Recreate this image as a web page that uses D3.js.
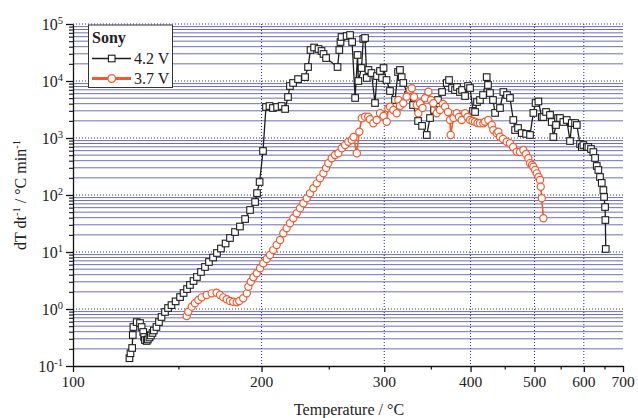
<!DOCTYPE html>
<html>
<head>
<meta charset="utf-8">
<script src="https://cdn.jsdelivr.net/npm/d3@7"></script>
<style>
  html, body { margin: 0; padding: 0; background: #ffffff; }
  svg { display: block; font-family: "Liberation Serif", "Times New Roman", serif; }
</style>
</head>
<body>
<svg id="chart" width="638" height="418"></svg>
<script>
// Self-heating rate of Sony cells vs temperature (ARC-type run)
const legendTitle = "Sony";
const seriesNames = ["4.2 V", "3.7 V"];

// 4.2 V cell: temperature (°C) and dT/dt (°C/min)
const temp42 = [125.2,125.7,126.5,126.8,127.1,128.7,130.3,131.1,131.9,132.3,132.7,133.6,134.2,135.0,135.7,136.5,137.2,138.5,139.8,141.1,
  142.9,144.5,146.3,148.5,150.9,152.8,154.7,156.3,158.3,160.2,162.5,164.8,167.1,169.5,171.8,174.2,177.0,179.7,182.8,185.9,
  189.2,192.4,195.7,197.0,198.7,201.0,203.0,205.4,207.8,210.7,213.9,216.4,218.5,219.9,222.2,225.9,231.2,233.5,235.4,238.2,
  241.7,244.1,245.7,247.8,257.3,258.8,259.8,260.7,265.1,268.1,269.9,272.6,274.8,275.5,278.4,280.0,281.6,283.2,284.8,287.6,
  291.0,292.9,295.8,297.8,299.3,302.2,305.7,310.8,313.9,315.9,317.7,319.4,324.4,329.9,335.4,339.9,345.2,349.0,353.7,358.4,
  363.3,369.1,371.9,375.7,379.5,382.1,385.9,388.6,392.6,396.6,399.3,403.4,406.2,408.9,413.1,417.4,422.7,424.6,427.5,432.0,
  435.1,442.6,447.8,453.6,458.3,463.7,466.6,471.5,477.7,485.1,492.0,497.9,501.9,507.0,513.2,516.3,521.3,528.9,532.2,535.4,
  540.7,544.7,548.6,555.5,562.6,569.5,573.2,580.5,584.2,591.4,595.3,599.0,606.8,610.5,616.8,622.4,626.5,630.6,634.6,638.7,
  643.1,647.2,649.0,651.5,652.3,653.3];
const rate42 = [0.137,0.167,0.207,0.35,0.483,0.59,0.567,0.483,0.395,0.323,0.286,0.275,0.292,0.316,0.343,0.38,0.42,0.483,0.59,0.724,
  0.886,1.04,1.17,1.36,1.62,1.91,2.24,2.64,3.10,3.64,4.46,5.46,6.68,8.01,9.6,11.5,14.1,17.6,22.4,28.0,
  37.9,54.6,75.4,108,169,592,3500,3640,3360,3500,3640,3230,5240,8170,9230,10800,11700,17600,35000,38700,
  36400,33600,29800,25300,17600,35000,48300,59200,61500,64100,48300,5040,28600,10000,16900,54600,56800,11300,15600,13800,
  4110,12200,15000,11300,16900,10400,6680,4640,14400,15600,11700,9230,5680,3790,1990,1630,1130,2240,3100,4640,
  6410,9230,10400,7530,6950,7850,6410,6950,5450,8170,7530,2980,2860,4280,4640,5680,11700,8510,6150,4640,
  2750,3360,6410,5680,5040,2070,1380,1500,1220,1180,1130,2750,4110,4370,2330,2330,2860,2540,1910,1040,
  1690,2240,2240,1910,2070,885,1830,1830,1690,785,695,753,695,695,641,567,446,323,275,207,
  163,122,92.3,61.5,36.4,11.3];

// 3.7 V cell: temperature (°C) and dT/dt (°C/min)
const temp37 = [154.5,155.4,157.3,159.1,161.0,162.9,165.8,168.7,171.6,173.6,175.6,177.7,179.7,181.7,183.9,185.5,188.0,190.3,191.3,192.9,
  194.6,196.8,199.0,201.2,203.5,205.7,208.0,210.4,212.8,215.1,217.5,219.9,222.4,224.9,227.4,229.9,232.5,235.0,237.6,240.3,
  242.9,245.6,247.8,249.6,252.4,255.2,258.0,260.9,263.8,266.6,269.6,271.2,274.1,276.4,278.6,281.6,284.6,286.2,289.4,292.6,
  295.8,299.3,302.4,304.0,305.7,309.1,312.5,314.2,315.9,319.4,323.0,326.6,328.5,331.0,334.0,335.7,337.6,340.4,343.3,347.1,
  350.2,352.9,356.9,360.8,364.5,367.0,370.6,373.1,374.0,377.6,381.7,384.6,388.2,392.6,395.9,399.3,402.7,406.2,409.6,413.1,
  417.9,420.3,425.1,430.1,432.5,437.6,440.0,442.6,447.3,453.1,458.3,463.3,469.4,474.8,480.5,485.1,489.1,492.0,495.6,497.9,
  501.0,504.1,507.3,510.0,511.3,513.2,516.3];
const rate37 = [0.753,0.897,1.10,1.26,1.44,1.60,1.76,1.88,1.93,1.76,1.60,1.48,1.38,1.34,1.31,1.38,1.54,1.88,2.46,3.01,
  3.60,4.23,5.18,6.34,7.53,8.85,10.8,13.3,16.3,21.3,26.1,31.9,39.0,47.8,58.5,71.5,87.5,107,131,160,
  196,240,298,360,441,504,539,659,753,861,923,1040,539,1290,2220,2370,2370,2130,1810,2070,
  2710,2430,1930,3320,3540,3100,2710,4640,3640,4070,5310,6950,7450,5240,3790,2710,4070,3360,4970,6490,
  4640,4070,2710,3100,3950,3540,2860,2070,1130,2240,2710,2330,2070,2710,2330,2070,1990,1930,1830,1810,
  1810,1930,2070,1690,1380,1210,1290,1050,960,861,807,695,575,567,615,524,441,360,336,313,
  275,240,207,183,140,87.5,39.0];

// Axis ticks
const xMajorTicks = [100, 200, 300, 400, 500, 600, 700];
const xMinorTicks = [150, 250, 350, 450, 550, 650];
const yDecadeExps = [-1, 0, 1, 2, 3, 4, 5];

const C42 = "#1c1c1c";
const C37 = "#f05a2c";
const GRID = "#4b4ba8";
const GRID_DOT = "#2a2a9c";

const plot = { left: 73, right: 623, top: 24, bottom: 366 };
const svg = d3.select("#chart");

// Temperature axis is linear in inverse absolute temperature
const invK = t => -1 / (t + 273.15);
const xInv = d3.scaleLinear().domain([invK(100), invK(700)]).range([plot.left, plot.right]);
const x = t => xInv(invK(t));
const y = d3.scaleLog().domain([0.1, 1e5]).range([plot.bottom, plot.top]);

// Minor values 2..9 x 10^n for every decade
const yMinor = [];
yDecadeExps.slice(0, -1).forEach(e => { for (let m = 2; m <= 9; m++) yMinor.push(m * Math.pow(10, e)); });
const yMajor = yDecadeExps.map(e => Math.pow(10, e));

// Grid
const grid = svg.append("g");
grid.selectAll(".hminor").data(yMinor).join("line")
  .attr("x1", plot.left).attr("x2", plot.right)
  .attr("y1", d => y(d)).attr("y2", d => y(d))
  .attr("stroke", GRID).attr("stroke-width", 1).attr("opacity", 0.8);
grid.selectAll(".hmajor").data(yMajor.slice(1)).join("line")
  .attr("x1", plot.left).attr("x2", plot.right)
  .attr("y1", d => y(d)).attr("y2", d => y(d))
  .attr("stroke", GRID_DOT).attr("stroke-width", 1).attr("stroke-dasharray", "1,2");
grid.selectAll(".vmajor").data(xMajorTicks.slice(1, -1)).join("line")
  .attr("x1", d => x(d)).attr("x2", d => x(d))
  .attr("y1", plot.top).attr("y2", plot.bottom)
  .attr("stroke", GRID_DOT).attr("stroke-width", 1).attr("stroke-dasharray", "1,2");

// Axes
const axisG = svg.append("g").attr("color", "#111");
axisG.append("g").attr("transform", `translate(0,${plot.bottom})`)
  .call(d3.axisBottom(xInv).tickValues(xMajorTicks.map(invK)).tickSize(6).tickSizeOuter(0).tickFormat(""))
  .call(g => g.selectAll("line,path").attr("stroke-width", 1.3));
axisG.append("g").attr("transform", `translate(0,${plot.bottom})`)
  .call(d3.axisBottom(xInv).tickValues(xMinorTicks.map(invK)).tickSize(3.5).tickSizeOuter(0).tickFormat(""))
  .call(g => g.select(".domain").remove())
  .call(g => g.selectAll("line").attr("stroke-width", 1.2));
axisG.append("g").attr("transform", `translate(${plot.left},0)`)
  .call(d3.axisLeft(y).tickValues(yMajor).tickSize(7).tickSizeOuter(0).tickFormat(""))
  .call(g => g.selectAll("line,path").attr("stroke-width", 1.3));
axisG.append("g").attr("transform", `translate(${plot.left},0)`)
  .call(d3.axisLeft(y).tickValues(yMinor).tickSize(4).tickSizeOuter(0).tickFormat(""))
  .call(g => g.select(".domain").remove())
  .call(g => g.selectAll("line").attr("stroke-width", 1.1));

// Tick labels
svg.append("g").selectAll("text").data(xMajorTicks).join("text")
  .attr("x", d => x(d)).attr("y", 387).attr("text-anchor", "middle")
  .attr("font-size", 15.5).attr("fill", "#222").text(d => d);

const yl = svg.append("g").selectAll("text").data(yDecadeExps).join("text")
  .attr("x", 63).attr("y", d => y(Math.pow(10, d)) + 5.5).attr("text-anchor", "end")
  .attr("font-size", 16).attr("fill", "#222");
yl.append("tspan").text("10");
yl.append("tspan").attr("font-size", 10.5).attr("dy", -5.5).text(d => d < 0 ? "-" + (-d) : d);

// Axis titles
svg.append("text").attr("x", 349).attr("y", 415).attr("text-anchor", "middle")
  .attr("font-size", 16).attr("fill", "#222").text("Temperature / °C");
const yt = svg.append("text").attr("transform", "translate(26,195) rotate(-90)")
  .attr("text-anchor", "middle").attr("font-size", 16).attr("fill", "#222");
yt.append("tspan").text("dT dt");
yt.append("tspan").attr("font-size", 10.5).attr("dy", -6).text("-1");
yt.append("tspan").attr("dy", 6).text(" / °C min");
yt.append("tspan").attr("font-size", 10.5).attr("dy", -6).text("-1");

// Series
const data42 = temp42.map((t, i) => ({ t, r: rate42[i] }));
const data37 = temp37.map((t, i) => ({ t, r: rate37[i] }));
const line = d3.line().x(d => x(d.t)).y(d => y(d.r));

const s42 = svg.append("g");
s42.append("path").datum(data42).attr("d", line)
  .attr("fill", "none").attr("stroke", C42).attr("stroke-width", 1.3);
s42.selectAll("rect").data(data42).join("rect")
  .attr("x", d => x(d.t) - 3.3).attr("y", d => y(d.r) - 3.3)
  .attr("width", 6.6).attr("height", 6.6)
  .attr("fill", "#fff").attr("stroke", C42).attr("stroke-width", 1.1);

const s37 = svg.append("g");
s37.append("path").datum(data37).attr("d", line)
  .attr("fill", "none").attr("stroke", C37).attr("stroke-width", 1.6);
s37.selectAll("circle").data(data37).join("circle")
  .attr("cx", d => x(d.t)).attr("cy", d => y(d.r)).attr("r", 3.6)
  .attr("fill", "#fff").attr("stroke", C37).attr("stroke-width", 1.2);

// Legend
const lg = svg.append("g");
lg.append("rect").attr("x", 88.5).attr("y", 25).attr("width", 84).attr("height", 62.5)
  .attr("fill", "#fff").attr("stroke", "#333").attr("stroke-width", 1);
lg.append("text").attr("x", 92).attr("y", 42.5).attr("font-size", 16).attr("font-weight", "bold")
  .attr("fill", "#222").text(legendTitle);
const rows = [{ y: 58.5, c: C42, w: 1.5, shape: "rect" }, { y: 78.5, c: C37, w: 3, shape: "circle" }];
rows.forEach((r, i) => {
  lg.append("line").attr("x1", 92).attr("x2", 131).attr("y1", r.y).attr("y2", r.y)
    .attr("stroke", r.c).attr("stroke-width", r.w);
  if (r.shape === "rect") {
    lg.append("rect").attr("x", 111.7 - 3.3).attr("y", r.y - 3.3).attr("width", 6.6).attr("height", 6.6)
      .attr("fill", "#fff").attr("stroke", r.c).attr("stroke-width", 1.1);
  } else {
    lg.append("circle").attr("cx", 111.7).attr("cy", r.y).attr("r", 3.8)
      .attr("fill", "#fff").attr("stroke", r.c).attr("stroke-width", 1.3);
  }
  lg.append("text").attr("x", 134).attr("y", r.y + 5).attr("font-size", 16)
    .attr("fill", "#222").text(seriesNames[i]);
});
</script>
</body>
</html>
